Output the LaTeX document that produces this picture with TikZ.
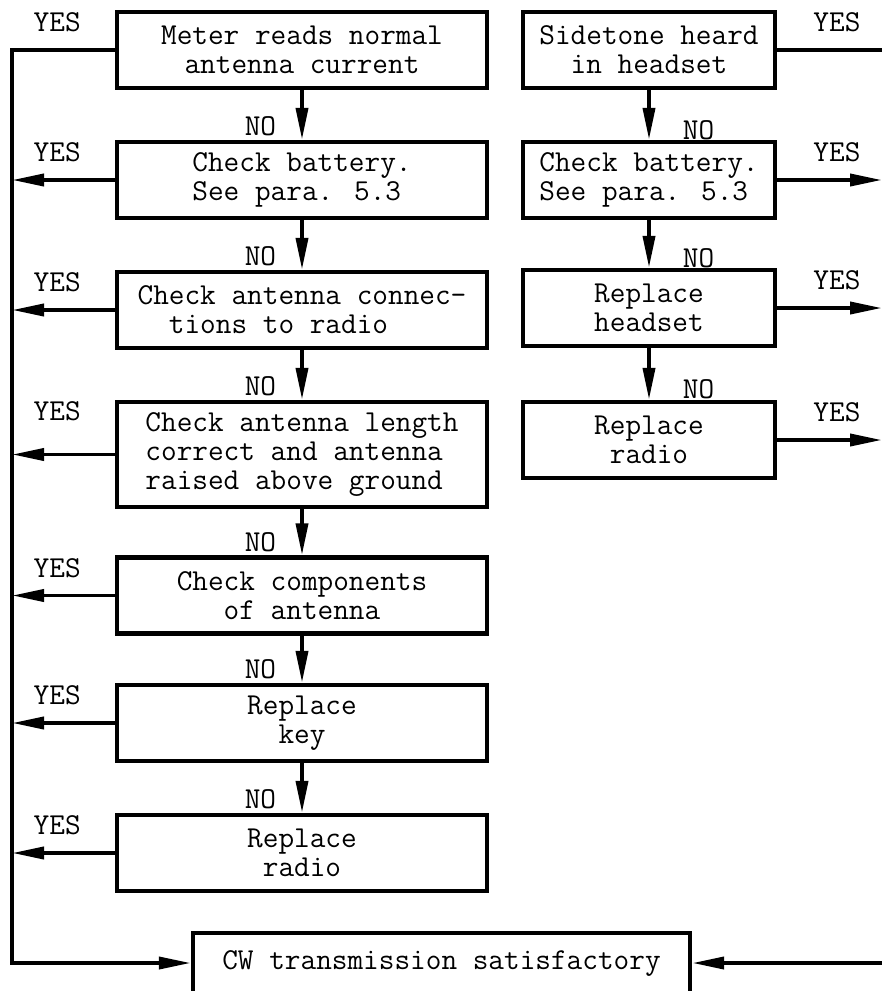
\documentclass[tikz,border=0pt]{standalone}
\usepackage{fontspec}
\usetikzlibrary{arrows.meta, calc}

\begin{document}
\begin{tikzpicture}[x=0.5pt, y=-0.5pt,
  font=\fontsize{15.2}{14.5}\selectfont\ttfamily,
  box/.style={draw, line width=2.2pt, minimum height=38pt, inner sep=0pt},
  lbox/.style={box, minimum width=185pt, align=center},
  rbox/.style={box, minimum width=126pt, align=center},
  link/.style={line width=1.9pt},
  flow/.style={link, -{Triangle[length=16pt, width=6pt]}},
  tag/.style={inner sep=2pt}]
\useasboundingbox (0,0) rectangle (882,991);
\clip (0,0) rectangle (882,991);

% left column
\node[lbox] (meter) at (302,50) {Meter reads normal\\antenna current};
\node[lbox, align=left] (battL) at (302,180) {Check battery.\\See para. 5.3};
\node[lbox, align=left] (antconn) at (302,310) {Check antenna connec-\\\hphantom{xx}tions to radio};
\node[lbox, align=left, minimum height=52.5pt] (antlen) at (302,454.5) {Check antenna length\\correct and antenna\\raised above ground};
\node[lbox] (antcomp) at (302,595.5) {Check components\\of antenna};
\node[lbox] (key) at (302,723) {Replace\\key};
\node[lbox] (radioL) at (302,853) {Replace\\radio};

% right column
\node[rbox] (sidetone) at (649,50) {Sidetone heard\\in headset};
\node[rbox, align=left] (battR) at (649,180) {Check battery.\\See para. 5.3};
\node[rbox] (headset) at (649,308) {Replace\\headset};
\node[rbox] (radioR) at (649,440) {Replace\\radio};

\node[box, minimum width=248.5pt, minimum height=30pt] (cw) at (441.5,963) {CW transmission satisfactory};

\coordinate (busL) at (12,50);
\coordinate (busR) at (882,50);

% NO branches
\draw[flow] (meter) -- node[tag, pos=0.72, left=10pt] {NO} (battL);
\draw[flow] (battL) -- node[tag, pos=0.72, left=10pt] {NO} (antconn);
\draw[flow] (antconn) -- node[tag, pos=0.72, left=10pt] {NO} (antlen);
\draw[flow] (antlen) -- node[tag, pos=0.72, left=10pt] {NO} (antcomp);
\draw[flow] (antcomp) -- node[tag, pos=0.72, left=10pt] {NO} (key);
\draw[flow] (key) -- node[tag, pos=0.72, left=10pt] {NO} (radioL);
\draw[flow] (sidetone) -- node[tag, pos=0.8, right=14pt] {NO} (battR);
\draw[flow] (battR) -- node[tag, pos=0.8, right=14pt] {NO} (headset);
\draw[flow] (headset) -- node[tag, pos=0.8, right=14pt] {NO} (radioR);

% YES branches, left
\draw[flow] (meter.west) -- node[tag, pos=0.56, above=6pt] {YES} (busL) |- (cw.west);
\draw[flow] (battL.west) -- node[tag, pos=0.56, above=6pt] {YES} (battL.west -| busL);
\draw[flow] (antconn.west) -- node[tag, pos=0.56, above=6pt] {YES} (antconn.west -| busL);
\draw[flow] (antlen.west) -- node[tag, pos=0.56, above=14pt] {YES} (antlen.west -| busL);
\draw[flow] (antcomp.west) -- node[tag, pos=0.56, above=6pt] {YES} (antcomp.west -| busL);
\draw[flow] (key.west) -- node[tag, pos=0.56, above=6pt] {YES} (key.west -| busL);
\draw[flow] (radioL.west) -- node[tag, pos=0.56, above=6pt] {YES} (radioL.west -| busL);

% YES branches, right
\draw[link] (sidetone.east) -- node[tag, pos=0.57, above=6pt] {YES} (busR);
\draw[flow] (battR.east) -- node[tag, pos=0.57, above=6pt] {YES} (battR.east -| busR);
\draw[flow] (headset.east) -- node[tag, pos=0.57, above=6pt] {YES} (headset.east -| busR);
\draw[flow] (radioR.east) -- node[tag, pos=0.57, above=6pt] {YES} (radioR.east -| busR);
\draw[flow] (cw.east -| busR) -- (cw.east);
\end{tikzpicture}
\end{document}
